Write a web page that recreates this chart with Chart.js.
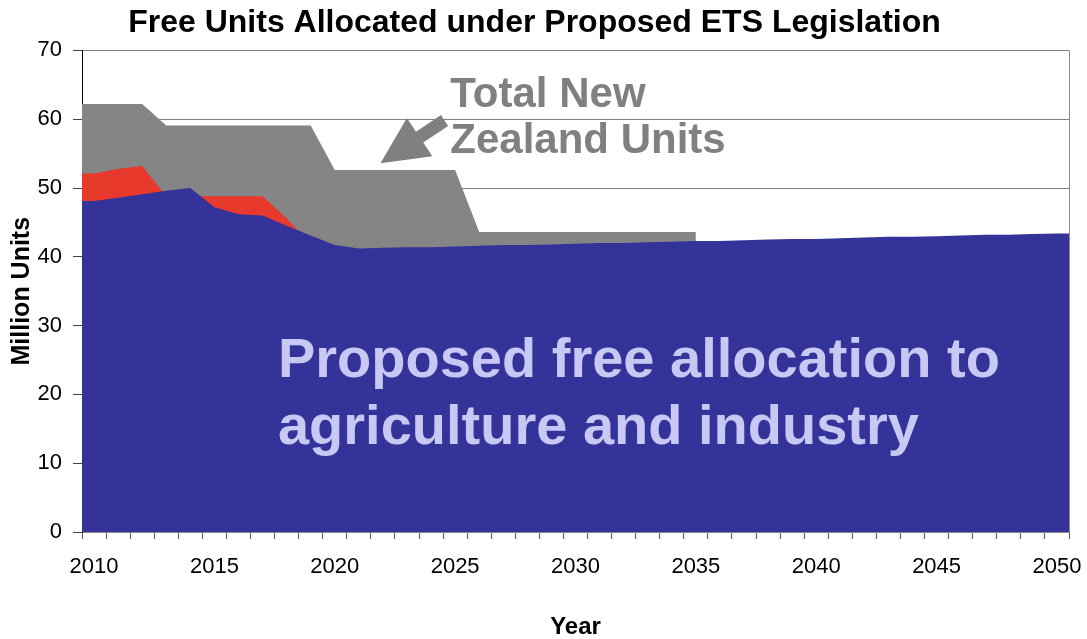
<!DOCTYPE html>
<html lang="en">
<head>
<meta charset="UTF-8">
<title>Free Units Allocated under Proposed ETS Legislation</title>
<script src="https://cdn.jsdelivr.net/npm/chart.js"></script>
<style>
  html, body { margin: 0; padding: 0; background: #ffffff; }
  canvas { display: block; }
</style>
</head>
<body>
<canvas id="unitsChart" width="1087" height="639"></canvas>
<script>
// Years on the horizontal axis
const years = [
  2010, 2011, 2012, 2013, 2014, 2015, 2016, 2017, 2018, 2019,
  2020, 2021, 2022, 2023, 2024, 2025, 2026, 2027, 2028, 2029,
  2030, 2031, 2032, 2033, 2034, 2035, 2036, 2037, 2038, 2039,
  2040, 2041, 2042, 2043, 2044, 2045, 2046, 2047, 2048, 2049, 2050
];

// Proposed free allocation to agriculture and industry (million units, 2010-2050)
const freeAllocation = [
  48.1, 48.6, 49.1, 49.6, 50.0, 47.2, 46.2, 46.0, 44.5, 43.1,
  41.7, 41.2, 41.3, 41.4, 41.4, 41.5, 41.6, 41.7, 41.7, 41.8,
  41.9, 42.0, 42.0, 42.1, 42.2, 42.3, 42.3, 42.4, 42.5, 42.6,
  42.6, 42.7, 42.8, 42.9, 42.9, 43.0, 43.1, 43.2, 43.2, 43.3, 43.4
];

// Earlier allocation proposal (2010-2019)
const earlierAllocation = [52.1, 52.8, 53.2, 48.8, 48.8, 48.8, 48.8, 48.8, 45.6, 41.8];

// Total New Zealand units (2010-2035)
const totalNzUnits = [
  62.2, 62.2, 62.2,
  59.1, 59.1, 59.1, 59.1, 59.1, 59.1, 59.1,
  52.6, 52.6, 52.6, 52.6, 52.6, 52.6,
  43.6, 43.6, 43.6, 43.6, 43.6, 43.6, 43.6, 43.6, 43.6, 43.6
];

// Value axis ticks
const unitTicks = [0, 10, 20, 30, 40, 50, 60, 70];

// Text written over the areas
const totalNote = ['Total New', 'Zealand Units'];
const allocationNote = ['Proposed free allocation to', 'agriculture and industry'];

const firstYear = years[0];
const lastYear = years[years.length - 1];

// Each year takes one category band, so the areas run out to the band edges
const toPoints = (values) => {
  const points = values.map((v, i) => ({ x: years[i], y: v }));
  points.unshift({ x: firstYear - 0.5, y: values[0] });
  if (values.length === years.length) {
    points.push({ x: lastYear + 0.5, y: values[values.length - 1] });
  }
  return points;
};

// Tick marks sit between the years, labels on every fifth year
const xTicks = years.flatMap((yr) => [yr - 0.5, yr]).concat(lastYear + 0.5);

// Frame line on the right side of the plot
const plotFrame = {
  id: 'plotFrame',
  beforeDatasetsDraw(chart) {
    const { ctx, chartArea } = chart;
    ctx.save();
    ctx.strokeStyle = '#8a8a8a';
    ctx.lineWidth = 1;
    ctx.beginPath();
    ctx.moveTo(chartArea.right + 0.5, chartArea.top);
    ctx.lineTo(chartArea.right + 0.5, chartArea.bottom);
    ctx.stroke();
    ctx.restore();
  }
};

// Arrow and the two text notes
const notes = {
  id: 'notes',
  afterDatasetsDraw(chart) {
    const { ctx, scales: { x, y } } = chart;
    ctx.save();

    // Arrow pointing at the grey area
    const tipX = x.getPixelForValue(2021.9);
    const tipY = y.getPixelForValue(53.6);
    ctx.translate(tipX, tipY);
    ctx.rotate(Math.atan2(-42.8, 64.2));
    ctx.fillStyle = '#808080';
    ctx.beginPath();
    ctx.moveTo(0, 0);
    ctx.lineTo(47, -23);
    ctx.lineTo(47, -6.5);
    ctx.lineTo(77, -6.5);
    ctx.lineTo(77, 6.5);
    ctx.lineTo(47, 6.5);
    ctx.lineTo(47, 23);
    ctx.closePath();
    ctx.fill();
    ctx.setTransform(1, 0, 0, 1, 0, 0);

    ctx.textAlign = 'left';
    ctx.textBaseline = 'alphabetic';

    ctx.font = "bold 42px 'Liberation Sans', Arial, sans-serif";
    ctx.fillStyle = '#808080';
    totalNote.forEach((line, i) => {
      ctx.fillText(line, x.getPixelForValue(2024.8), y.getPixelForValue(61.8) + i * 46.5);
    });

    ctx.font = "bold 56px 'Liberation Sans', Arial, sans-serif";
    ctx.fillStyle = '#c8c8f4';
    allocationNote.forEach((line, i) => {
      ctx.fillText(line, x.getPixelForValue(2017.64), y.getPixelForValue(22.5) + i * 67);
    });

    ctx.restore();
  }
};

Chart.defaults.font.family = "'Liberation Sans', Arial, sans-serif";

const unitsChart = new Chart(document.querySelector('#unitsChart'), {
  type: 'line',
  data: {
    datasets: [
      {
        label: 'Proposed free allocation to agriculture and industry',
        data: toPoints(freeAllocation),
        backgroundColor: '#333399',
        borderWidth: 0,
        pointRadius: 0,
        fill: 'origin',
        order: 0
      },
      {
        label: 'Earlier allocation',
        data: toPoints(earlierAllocation),
        backgroundColor: '#e8392d',
        borderWidth: 0,
        pointRadius: 0,
        fill: 'origin',
        order: 1
      },
      {
        label: 'Total New Zealand Units',
        data: toPoints(totalNzUnits),
        backgroundColor: '#858585',
        borderWidth: 0,
        pointRadius: 0,
        fill: 'origin',
        order: 2
      }
    ]
  },
  options: {
    responsive: false,
    animation: false,
    devicePixelRatio: 1,
    layout: { padding: { right: 18 } },
    plugins: {
      legend: { display: false },
      tooltip: { enabled: false },
      title: {
        display: true,
        text: 'Free Units Allocated under Proposed ETS Legislation',
        color: '#000000',
        font: { size: 32, weight: 'bold' },
        padding: { top: 4, bottom: 8 }
      }
    },
    scales: {
      x: {
        type: 'linear',
        min: firstYear - 0.5,
        max: lastYear + 0.5,
        afterBuildTicks: (scale) => {
          scale.ticks = xTicks.map((v) => ({ value: v }));
        },
        afterFit: (scale) => {
          scale.height = 107;
        },
        ticks: {
          autoSkip: false,
          maxRotation: 0,
          minRotation: 0,
          padding: 15,
          color: '#000000',
          font: { size: 22 },
          callback: (value) => (Number.isInteger(value) && value % 5 === 0 ? String(value) : '')
        },
        grid: {
          drawOnChartArea: false,
          tickLength: 7,
          tickColor: (c) => (c.tick && Number.isInteger(c.tick.value) ? 'rgba(0,0,0,0)' : '#555555')
        },
        border: { color: '#8a8a8a' },
        title: {
          display: true,
          text: 'Year',
          color: '#000000',
          font: { size: 24, weight: 'bold', lineHeight: 1 },
          padding: { top: 0, bottom: 0 }
        }
      },
      y: {
        min: 0,
        max: 70,
        afterBuildTicks: (scale) => {
          scale.ticks = unitTicks.map((v) => ({ value: v }));
        },
        afterFit: (scale) => {
          scale.width = 82;
        },
        ticks: {
          padding: 11,
          color: '#000000',
          font: { size: 22 }
        },
        grid: {
          color: '#808080',
          tickLength: 9,
          tickColor: '#444444'
        },
        border: { color: '#000000' },
        title: {
          display: true,
          text: 'Million Units',
          color: '#000000',
          font: { size: 25, weight: 'bold' },
          padding: { top: 7, bottom: 0 }
        }
      }
    }
  },
  plugins: [plotFrame, notes]
});
</script>
</body>
</html>
